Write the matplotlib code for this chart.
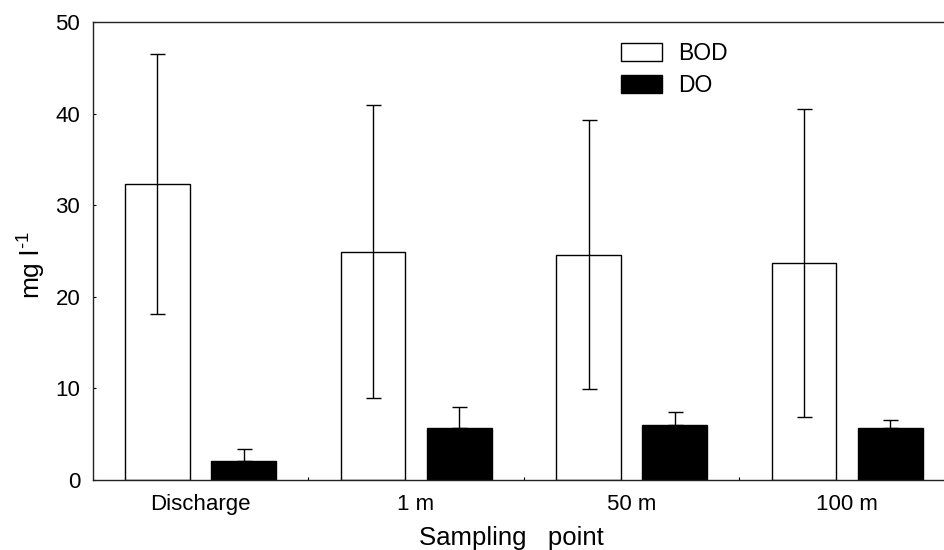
import matplotlib
matplotlib.use("Agg")
import matplotlib.pyplot as plt
import numpy as np

plt.rcParams['font.family'] = ['Liberation Sans', 'DejaVu Sans']
plt.rcParams['mathtext.fontset'] = 'custom'
plt.rcParams['mathtext.rm'] = 'Liberation Sans'
plt.rcParams['mathtext.it'] = 'Liberation Sans:italic'
plt.rcParams['mathtext.bf'] = 'Liberation Sans:bold'

# ===== DATA =====
sites = ['Discharge', '1 m', '50 m', '100 m']
bod = [32.3, 24.9, 24.6, 23.7]
bod_err = [14.2, 16.0, 14.7, 16.8]
do = [2.1, 5.7, 6.0, 5.65]
do_err = [1.25, 2.3, 1.4, 0.95]

x = np.arange(len(sites))
width = 0.30
gap = 0.10

fig = plt.figure(figsize=(9.45, 5.5), dpi=100)
ax = fig.add_axes([92.7 / 945, 1 - 480 / 550, (955 - 92.7) / 945, 458 / 550])

off = (width + gap) / 2
ax.bar(x - off, bod, width, color='white', edgecolor='black', linewidth=1.0,
       label='BOD', zorder=2)
ax.bar(x + off, do, width, color='black', edgecolor='black', linewidth=1.0,
       label='DO', zorder=2)

ax.errorbar(x - off, bod, yerr=bod_err, fmt='none', ecolor='black',
            elinewidth=1.0, capsize=5.4, capthick=1.0, zorder=3)
ax.errorbar(x + off, do, yerr=[np.zeros(len(do)), do_err], fmt='none',
            ecolor='black', elinewidth=1.0, capsize=5.4, capthick=1.0, zorder=3)

ax.set_xlim(-0.5, len(sites) - 0.5)
ax.set_ylim(0, 50)

ax.set_yticks([0, 10, 20, 30, 40, 50])
ax.tick_params(axis='y', direction='in', length=2.5, width=0.8, labelsize=16, pad=9)

ax.set_xticks(x)
ax.set_xticklabels(sites)
ax.tick_params(axis='x', length=0, labelsize=16, pad=10)
ax.set_xticks(np.arange(len(sites) - 1) + 0.5, minor=True)
ax.tick_params(axis='x', which='minor', direction='in', length=2.5, width=0.8)

for s in ['left', 'bottom', 'top', 'right']:
    ax.spines[s].set_linewidth(1.0)
    ax.spines[s].set_color('#222222')

ax.set_ylabel('mg l$^{\\text{-1}}$', fontsize=19)
ax.yaxis.set_label_coords(-0.052, 0.47)
ax.set_xlabel('Sampling   point', fontsize=18.5)
ax.xaxis.set_label_coords(0.485, -0.1)

ax.legend(loc='upper left', bbox_to_anchor=(621 / 945, 1 - 42 / 550),
          bbox_transform=fig.transFigure, frameon=False, fontsize=16.5,
          handlelength=1.8, handleheight=0.8, handletextpad=0.7,
          labelspacing=0.38, borderpad=0, borderaxespad=0)

fig.savefig('out.png', dpi=100)
